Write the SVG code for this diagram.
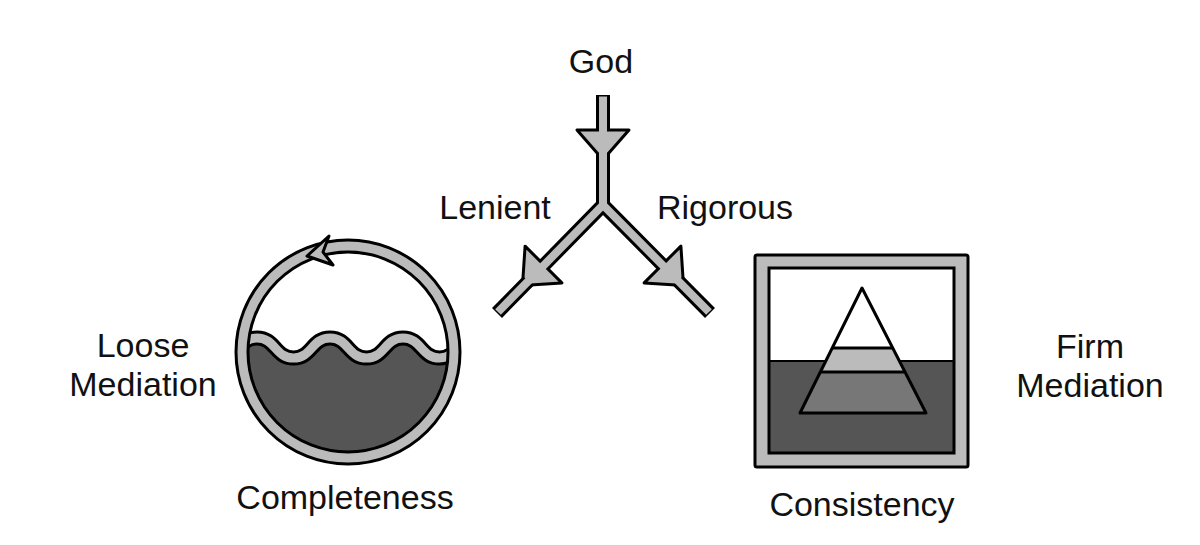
<svg xmlns="http://www.w3.org/2000/svg" width="1200" height="545" viewBox="0 0 1200 545">
<style>
text{font-family:"Liberation Sans",Arial,sans-serif;font-size:34px;fill:#111;text-anchor:middle}
.o{stroke:#000;stroke-width:3;stroke-linejoin:round}
</style>
<defs>
<polygon id="ah" points="-26,-12 26,-12 5,12 -5,12" fill="#bbb" stroke="#000" stroke-width="3" stroke-linejoin="round"/>
<clipPath id="cc"><circle cx="348" cy="352" r="100"/></clipPath>
</defs>
<rect width="1200" height="545" fill="#fff"/>
<g id="connectors">
<path d="M603,95 V205 M603,205 L497,313 M603,205 L710,313" fill="none" stroke="#000" stroke-width="14" stroke-linejoin="miter"/>
<use href="#ah" transform="translate(603,142)"/>
<use href="#ah" transform="translate(535,273) rotate(45)"/>
<use href="#ah" transform="translate(671,273) rotate(-45)"/>
<path d="M603,96.5 V205 M603,205 L498,312 M603,205 L709,312" fill="none" stroke="#bbb" stroke-width="8" stroke-linejoin="miter"/>
</g>
<g id="completeness">
<g clip-path="url(#cc)">
<path d="M184,338 C202,338 202.5,358 220.5,358 S238.5,338 257,338 S275,358 293.5,358 S311.5,338 330,338 S348,358 366.5,358 S384.5,338 403,338 S421,358 439.5,358 S457.5,338 476,338 L476,470 L184,470 Z" fill="#555"/>
<path d="M184,338 C202,338 202.5,358 220.5,358 S238.5,338 257,338 S275,358 293.5,358 S311.5,338 330,338 S348,358 366.5,358 S384.5,338 403,338 S421,358 439.5,358 S457.5,338 476,338" fill="none" stroke="#000" stroke-width="15"/>
<path d="M184,338 C202,338 202.5,358 220.5,358 S238.5,338 257,338 S275,358 293.5,358 S311.5,338 330,338 S348,358 366.5,358 S384.5,338 403,338 S421,358 439.5,358 S457.5,338 476,338" fill="none" stroke="#bbb" stroke-width="9"/>
</g>
<circle cx="348" cy="352" r="106" fill="none" stroke="#000" stroke-width="15"/>
<circle cx="348" cy="352" r="106" fill="none" stroke="#bbb" stroke-width="9"/>
<polygon class="o" points="307,256 329,236 323,252 333,265" fill="#bbb"/>
</g>
<g id="consistency">
<rect class="o" x="755" y="255" width="213" height="212" fill="#bbb" rx="2"/>
<rect x="769" y="268" width="185" height="93" fill="#fff"/>
<rect x="769" y="361" width="185" height="92" fill="#555"/>
<rect x="769" y="268" width="185" height="185" fill="none" stroke="#000" stroke-width="3"/>
<line x1="769" y1="361" x2="954" y2="361" stroke="#000" stroke-width="2"/>
<polygon points="862,288 892,348 832,348" fill="#fff"/>
<polygon points="832,348 892,348 904,372 820,372" fill="#bbb"/>
<polygon points="820,372 904,372 926,413 800,413" fill="#777"/>
<polygon class="o" points="862,288 926,413 800,413" fill="none"/>
<line x1="832" y1="348" x2="892" y2="348" stroke="#000" stroke-width="3"/>
<line x1="820" y1="372" x2="904" y2="372" stroke="#000" stroke-width="3"/>
</g>
<g id="labels">
<text x="601" y="73">God</text>
<text x="495" y="219">Lenient</text>
<text x="725" y="219">Rigorous</text>
<text x="143" y="357">Loose</text>
<text x="143" y="396">Mediation</text>
<text x="345" y="509">Completeness</text>
<text x="862" y="516">Consistency</text>
<text x="1090" y="358">Firm</text>
<text x="1090" y="397">Mediation</text>
</g>
</svg>
